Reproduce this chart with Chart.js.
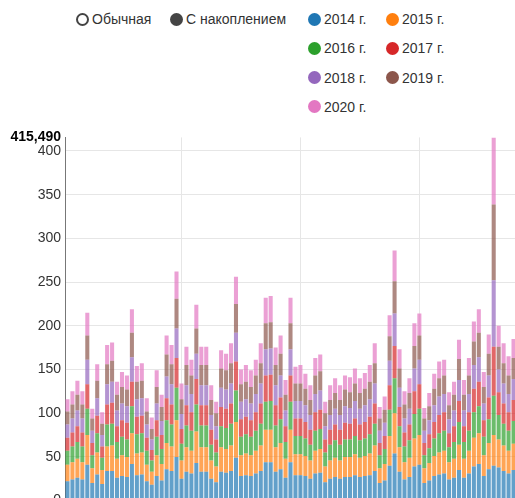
<!DOCTYPE html>
<html>
<head>
<meta charset="utf-8">
<script src="https://cdn.jsdelivr.net/npm/chart.js@4.4.1/dist/chart.umd.min.js"></script>
<style>
html, body { margin: 0; padding: 0; overflow: hidden; background: #fff; width: 515px; height: 498px; }
body { position: relative; font-family: Arial, "Liberation Sans", sans-serif; font-size: 14px; color: #333; }
.item { position: absolute; display: flex; align-items: center; white-space: nowrap; height: 16px; line-height: 16px; }
.dot { width: 13px; height: 13px; border-radius: 50%; margin-right: 3px; box-sizing: border-box; flex: none; }
#wrap { position: absolute; left: 0; top: 125px; }
</style>
</head>
<body>
<div class="item" style="left:76px;top:11px"><span class="dot" style="border:2px solid #444"></span>Обычная</div>
<div class="item" style="left:170px;top:11px"><span class="dot" style="background:#444"></span>С накоплением</div>
<div id="legend"></div>
<div id="wrap"><canvas id="myChart" width="520" height="388"></canvas></div>
<script>
// series names / colours
var names = ['2014 г.', '2015 г.', '2016 г.', '2017 г.', '2018 г.', '2019 г.', '2020 г.'];
var colors = ['#1f77b4', '#ff7f0e', '#2ca02c', '#d62728', '#9467bd', '#8c564b', '#e377c2'];

// y axis ticks, top value shown in bold
var yTicks = [0, 50, 100, 150, 200, 250, 300, 350, 400];
var yMax = 415.49;
var yMaxLabel = '415,490';

// stacked values per year
var s2014 = [22,24,26,24,41,20,30,19,34,34,26,28,27,42,29,30,22,18,28,23,36,34,50,
             25,33,31,43,33,33,25,21,33,32,34,49,28,29,28,31,34,44,44,33,36,26,44,29,29,
             28,25,31,32,21,25,27,25,27,27,29,27,28,29,34,20,23,40,54,33,24,27,39,41,20,23,28,30,31,24,26,35,26,31,39,42,28,36,40,38,34,31,35];
var s2015 = [19,20,22,20,34,17,25,16,28,29,22,24,23,35,25,25,19,15,24,19,30,28,42,
             21,28,26,36,28,28,21,18,28,27,29,41,24,25,24,26,29,37,37,28,30,22,37,24,24,
             23,21,26,27,18,21,22,21,23,23,24,22,23,25,29,17,19,34,46,28,20,22,32,34,17,20,23,25,26,20,22,29,22,26,33,35,24,30,35,32,29,26,30];
var s2016 = [16,18,19,18,30,15,22,14,25,25,19,21,20,31,22,22,16,13,21,17,26,25,37,
             19,25,23,31,25,25,18,16,24,24,25,36,21,22,21,23,25,32,33,25,27,19,32,21,21,
             20,18,23,23,16,18,20,18,20,20,21,20,20,22,25,15,17,30,40,24,18,20,28,30,15,17,20,22,23,17,19,26,19,23,29,31,21,27,45,28,25,23,26];
var s2017 = [15,16,18,16,28,14,20,13,23,24,18,19,19,28,20,20,15,12,19,16,25,23,34,
             17,23,21,29,23,23,17,15,22,22,23,33,20,20,19,21,23,30,30,23,25,18,30,20,20,
             19,17,21,22,15,17,18,17,19,18,20,18,19,20,23,14,15,28,37,22,16,18,26,28,14,16,19,21,21,16,18,24,18,21,27,28,19,25,56,26,23,21,24];
var s2018 = [15,16,18,16,28,14,20,13,23,24,18,19,19,28,20,20,15,12,19,16,25,23,34,
             17,23,21,29,23,23,17,15,22,22,23,33,20,20,19,21,23,30,30,23,25,18,30,20,20,
             19,17,21,22,15,17,18,17,19,18,20,18,19,20,23,14,15,28,37,22,16,18,26,28,14,16,19,21,21,16,18,24,18,21,27,28,19,25,76,26,23,21,24];
var s2019 = [15,16,18,16,28,14,20,13,23,24,18,19,19,28,20,20,15,12,19,16,25,23,34,
             17,23,21,29,23,23,17,15,22,22,23,33,20,20,19,21,23,30,30,23,25,18,30,20,20,
             19,17,21,22,15,17,18,17,19,18,20,18,19,20,23,14,15,28,37,22,16,18,26,28,14,16,19,21,21,16,18,24,18,21,27,28,19,25,86.6,26,23,21,24];
var s2020 = [14,15,16,15,26,11,19,13,22,21,15,17,16,27,18,20,15,13,19,14,22,22,31,
             18,21,18,27,21,21,17,13,21,19,23,31,17,19,19,18,23,29,30,20,21,17,29,19,21,
             17,17,20,19,13,17,17,17,16,17,17,17,18,19,23,13,15,24,35,22,15,17,26,25,12,15,17,19,18,15,15,22,17,20,23,27,17,22,76.89,24,23,22,22];

var series = [s2014, s2015, s2016, s2017, s2018, s2019, s2020];
var labels = s2014.map(function (v, i) { return String(i + 1); });
var gridIdx = [23, 47, 71];

// legend for the years, two columns
var legend = document.getElementById('legend');
names.forEach(function (n, i) {
    var el = document.createElement('div');
    el.className = 'item';
    el.style.left = (i % 2 ? 386 : 308) + 'px';
    el.style.top = (11 + Math.floor(i / 2) * 29.3) + 'px';
    el.innerHTML = '<span class="dot" style="background:' + colors[i] + '"></span>' + n;
    legend.appendChild(el);
});

function fade(hex) {
    var r = parseInt(hex.substr(1, 2), 16), g = parseInt(hex.substr(3, 2), 16), b = parseInt(hex.substr(5, 2), 16);
    return 'rgba(' + r + ',' + g + ',' + b + ',0.7)';
}

var ctx = document.getElementById('myChart').getContext('2d');
var myChart = new Chart(ctx, {
    type: 'bar',
    data: {
        labels: labels,
        datasets: series.map(function (d, i) {
            return {
                label: names[i],
                data: d,
                backgroundColor: fade(colors[i]),
                borderWidth: 0,
                barPercentage: 0.82,
                categoryPercentage: 1
            };
        })
    },
    options: {
        responsive: false,
        animation: false,
        plugins: { legend: { display: false }, tooltip: { enabled: false } },
        layout: { padding: { top: 10, right: 4, left: 0, bottom: 0 } },
        scales: {
            x: {
                stacked: true,
                ticks: { display: false },
                grid: {
                    offset: false,
                    drawTicks: false,
                    color: function (c) { return gridIdx.indexOf(c.index) >= 0 ? '#e6e6e6' : 'rgba(0,0,0,0)'; }
                },
                border: { display: false }
            },
            y: {
                stacked: true,
                min: 0,
                max: yMax,
                afterBuildTicks: function (s) {
                    s.ticks = yTicks.concat([yMax]).map(function (v) { return { value: v }; });
                },
                afterFit: function (s) { s.width = 65; },
                ticks: {
                    padding: 4,
                    color: function (c) { return c.tick && c.tick.value === yMax ? '#000' : '#333'; },
                    font: function (c) {
                        return { family: 'Arial, "Liberation Sans", sans-serif', size: 14,
                                 weight: c.tick && c.tick.value === yMax ? 'bold' : 'normal' };
                    },
                    callback: function (v) { return v === yMax ? yMaxLabel : v; }
                },
                grid: {
                    drawTicks: false,
                    color: function (c) { return c.tick && c.tick.value === yMax ? 'rgba(0,0,0,0)' : '#e6e6e6'; }
                },
                border: { color: '#777' }
            }
        }
    }
});
</script>
</body>
</html>
